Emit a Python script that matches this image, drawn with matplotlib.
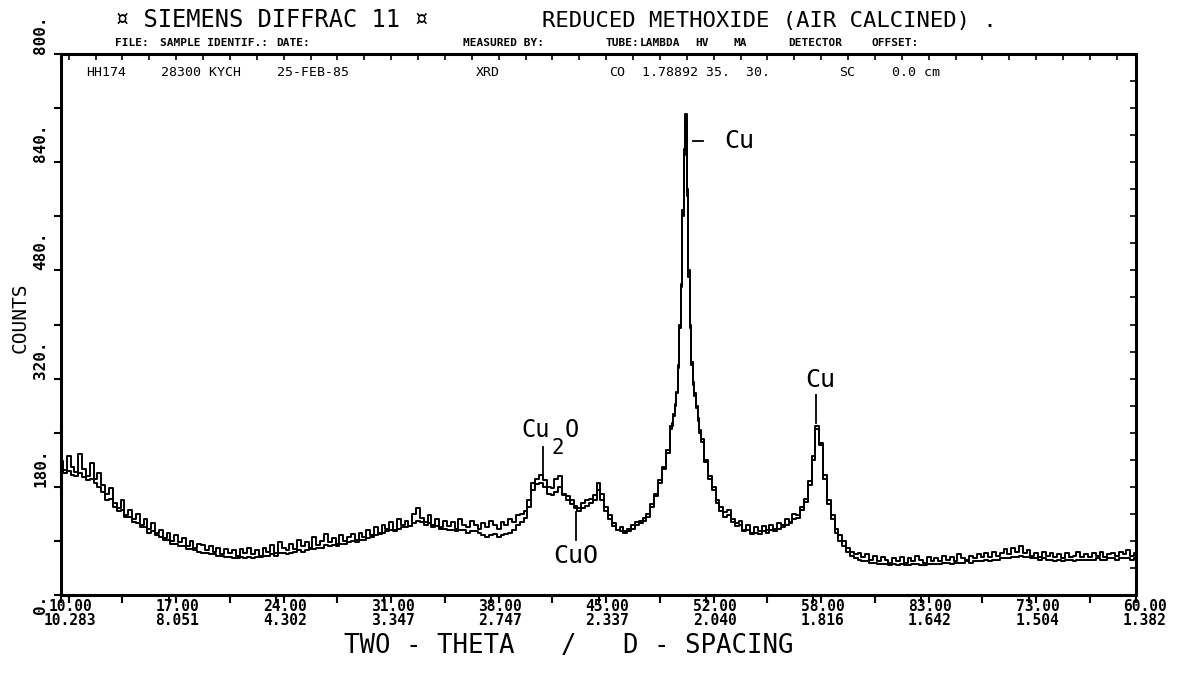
import numpy as np
import matplotlib
matplotlib.use("Agg")
import matplotlib.pyplot as plt
from matplotlib.ticker import MultipleLocator, FixedLocator, NullFormatter
from matplotlib.transforms import ScaledTranslation

# ---------------------------------------------------------------------------
# scan grid (2-theta, degrees): coarse steps, fine steps across the main peak
# ---------------------------------------------------------------------------
scan_low = np.arange(10.0, 49.76, 0.25)     # 10.00 ... 49.75
scan_peak = np.arange(49.8, 51.71, 0.1)      # 49.8 ... 51.7
scan_high = np.arange(52.0, 80.01, 0.25)     # 52.00 ... 80.00
two_theta = np.concatenate([scan_low, scan_peak, scan_high])

# upper (noisy) trace
counts_upper = [
    198, 185, 205, 190, 182, 208, 186, 176, 195, 172,
    180, 162, 150, 158, 136, 128, 140, 118, 126, 112,
    120, 104, 112, 98, 106, 92, 96, 84, 92, 80,
    88, 78, 84, 72, 80, 70, 76, 74, 66, 72,
    64, 70, 60, 68, 62, 66, 58, 68, 62, 70,
    60, 66, 58, 70, 64, 74, 62, 78, 70, 66,
    76, 68, 82, 72, 78, 70, 86, 74, 80, 90,
    78, 84, 76, 88, 80, 86, 90, 82, 92, 86,
    96, 88, 100, 92, 104, 98, 108, 96, 112, 104,
    110, 102, 120, 128, 114, 108, 118, 104, 112, 100,
    110, 102, 108, 98, 112, 104, 100, 110, 104, 98,
    106, 100, 110, 104, 98, 108, 104, 112, 108, 118,
    120, 124, 140, 165, 172, 178, 170, 160, 158, 172,
    176, 150, 146, 140, 132, 128, 136, 140, 142, 148,
    166, 150, 130, 118, 106, 96, 100, 94, 98, 104,
    108, 110, 114, 120, 134, 150, 170, 190, 215, 250,
    # main Cu peak
    255, 268, 282, 300, 340, 400, 460, 570, 660, 711,
    600, 480, 400, 345, 315, 298, 280, 262, 244, 230,
    # 52 .. 80
    200, 176, 160, 140, 130, 122, 126, 112, 106, 110,
    96, 104, 92, 100, 94, 102, 96, 104, 98, 106,
    104, 112, 108, 120, 118, 130, 142, 168, 205, 250,
    225, 178, 140, 118, 98, 88, 80, 70, 64, 60,
    62, 56, 60, 52, 58, 50, 56, 52, 48, 54,
    50, 56, 48, 54, 50, 58, 52, 48, 56, 50,
    54, 50, 58, 52, 56, 50, 60, 54, 52, 58,
    54, 60, 56, 62, 56, 64, 58, 62, 68, 60,
    70, 64, 72, 62, 66, 58, 62, 56, 64, 58,
    62, 56, 60, 54, 62, 56, 58, 64, 56, 60,
    56, 62, 58, 64, 56, 60, 62, 58, 64, 60,
    66, 58, 62,
]

# lower (smoother) trace
counts_lower = [
    186, 180, 184, 178, 176, 180, 174, 170, 172, 166,
    160, 152, 140, 142, 130, 124, 126, 116, 116, 108,
    106, 100, 100, 92, 94, 88, 86, 82, 82, 76,
    76, 72, 72, 68, 68, 66, 64, 62, 62, 60,
    60, 58, 58, 56, 56, 54, 54, 56, 54, 56,
    54, 56, 56, 58, 58, 60, 58, 62, 62, 60,
    62, 64, 66, 64, 66, 68, 68, 70, 70, 74,
    72, 74, 72, 76, 76, 78, 80, 78, 82, 82,
    84, 86, 88, 90, 92, 94, 96, 94, 98, 100,
    100, 102, 106, 110, 108, 104, 106, 100, 102, 98,
    98, 96, 96, 94, 96, 96, 92, 94, 94, 92,
    88, 86, 88, 90, 86, 88, 90, 92, 96, 104,
    108, 114, 130, 156, 164, 166, 160, 150, 148, 152,
    160, 148, 140, 134, 128, 124, 128, 132, 136, 140,
    155, 140, 124, 112, 102, 96, 94, 92, 94, 98,
    104, 106, 110, 116, 130, 146, 166, 186, 210, 245,
    250, 264, 280, 298, 336, 395, 455, 560, 650, 700,
    590, 470, 395, 340, 310, 295, 276, 258, 240, 226,
    196, 172, 155, 136, 124, 116, 118, 108, 102, 104,
    94, 96, 90, 92, 90, 94, 92, 96, 94, 98,
    100, 104, 106, 112, 114, 126, 138, 162, 200, 245,
    222, 172, 134, 112, 92, 80, 72, 64, 58, 54,
    52, 50, 50, 48, 48, 46, 46, 46, 44, 46,
    44, 46, 44, 44, 46, 46, 44, 44, 46, 46,
    46, 46, 48, 48, 46, 48, 48, 48, 50, 48,
    50, 50, 50, 52, 50, 52, 52, 54, 54, 54,
    56, 56, 58, 56, 56, 54, 54, 52, 54, 52,
    52, 50, 52, 50, 52, 52, 50, 52, 52, 52,
    52, 52, 54, 52, 52, 54, 54, 52, 54, 54,
    54, 52, 54,
]

y_ticks = [0, 160, 320, 480, 640, 800]
y_tick_labels = ["0.", "180.", "320.", "480.", "840.", "800."]
x_ticks = [10, 17, 24, 31, 38, 45, 52, 59, 66, 73, 80]
x_top_labels = ["10.00", "17.00", "24.00", "31.00", "38.00", "45.00",
                "52.00", "58.00", "83.00", "73.00", "60.00"]
x_bottom_labels = ["10.283", "8.051", "4.302", "3.347", "2.747", "2.337",
                   "2.040", "1.816", "1.642", "1.504", "1.382"]

W, H = 1195, 673
plt.rcParams["font.family"] = ["DejaVu Sans Mono", "DejaVu Sans"]

fig = plt.figure(figsize=(W / 100, H / 100), dpi=100)
ax = fig.add_axes([61 / W, 1 - 595 / H, 1075 / W, 541 / H])

ax.plot(two_theta, counts_upper, drawstyle="steps-mid", color="black", lw=1.4)
ax.plot(two_theta, counts_lower, drawstyle="steps-mid", color="black", lw=1.4)

ax.set_xlim(10, 80)
ax.set_ylim(0, 800)
for sp in ax.spines.values():
    sp.set_linewidth(2.2)

# bottom ticks; labels drawn as two rows (2-theta over d-spacing)
ax.xaxis.set_major_locator(FixedLocator(x_ticks))
ax.xaxis.set_minor_locator(MultipleLocator(3.5))
ax.xaxis.set_major_formatter(NullFormatter())
ax.tick_params(axis="x", which="both", direction="out", length=6, width=1.5)
shift = ScaledTranslation(9 / 100, 0, fig.dpi_scale_trans)
for xt, t1, t2 in zip(x_ticks, x_top_labels, x_bottom_labels):
    ax.text(xt, -0.021, t1, transform=ax.get_xaxis_transform() + shift,
            ha="center", va="center", fontsize=10.5, fontweight="bold")
    ax.text(xt, -0.047, t2, transform=ax.get_xaxis_transform() + shift,
            ha="center", va="center", fontsize=10.5, fontweight="bold")

ax.yaxis.set_major_locator(FixedLocator(y_ticks))
ax.yaxis.set_minor_locator(MultipleLocator(80))
ax.set_yticklabels(y_tick_labels, fontsize=11.5, fontweight="bold",
                   rotation=90, va="bottom")
ax.tick_params(axis="y", which="both", direction="out", length=5, width=1.5, pad=4)
for lbl in ax.get_yticklabels():
    if lbl.get_text() == "0.":
        lbl.set_va("top")

# small tick marks along the top and right frame
top = ax.secondary_xaxis("top")
top.xaxis.set_major_locator(MultipleLocator(1.75))
top.tick_params(direction="in", length=4, width=1.2, labeltop=False)
top.spines["top"].set_visible(False)
right = ax.secondary_yaxis("right")
right.yaxis.set_major_locator(MultipleLocator(40))
right.tick_params(direction="in", length=4, width=1.2, labelright=False)
right.spines["right"].set_visible(False)

fig.text(20 / W, 1 - 318 / H, "COUNTS", fontsize=14, rotation=90,
         ha="center", va="center")
fig.text(344 / W, 1 - 646 / H, "TWO - THETA   /   D - SPACING",
         fontsize=18.5, ha="left", va="center")

# peak markers
ax.plot([51.15, 51.8], [671, 671], color="black", lw=1.3)
ax.text(53.2, 671, "Cu", fontsize=18, va="center")
ax.plot([59.17, 59.17], [255, 296], color="black", lw=1.3)
ax.text(59.45, 318, "Cu", fontsize=18, ha="center", va="center")
ax.plot([41.4, 41.4], [172, 219], color="black", lw=1.3)
ax.text(40.0, 244, "Cu", fontsize=17, ha="left", va="center")
ax.text(41.95, 218, "2", fontsize=15, ha="left", va="center")
ax.text(42.8, 244, "O", fontsize=17, ha="left", va="center")
ax.plot([43.54, 43.54], [81, 123], color="black", lw=1.3)
ax.text(43.5, 58, "CuO", fontsize=18, ha="center", va="center")

# plotter header
fig.text(115 / W, 1 - 20 / H, "\u00a4 SIEMENS DIFFRAC 11 \u00a4", fontsize=17, va="center")
fig.text(542 / W, 1 - 21 / H, "REDUCED METHOXIDE (AIR CALCINED) .", fontsize=16, va="center")
row2 = [(115, "FILE:"), (160, "SAMPLE IDENTIF.:"), (276, "DATE:"),
        (463, "MEASURED BY:"), (606, "TUBE:"), (640, "LAMBDA"), (695, "HV"),
        (733, "MA"), (788, "DETECTOR"), (872, "OFFSET:")]
for px, s in row2:
    fig.text(px / W, 1 - 43 / H, s, fontsize=8, fontweight="bold", va="center")
row3 = [(86, "HH174"), (161, "28300 KYCH"), (277, "25-FEB-85"), (476, "XRD"),
        (609, "CO"), (642, "1.78892 35.  30."), (839, "SC"), (892, "0.0 cm")]
for px, s in row3:
    fig.text(px / W, 1 - 73 / H, s, fontsize=9.5, va="center")

fig.savefig("out.png", dpi=100)
